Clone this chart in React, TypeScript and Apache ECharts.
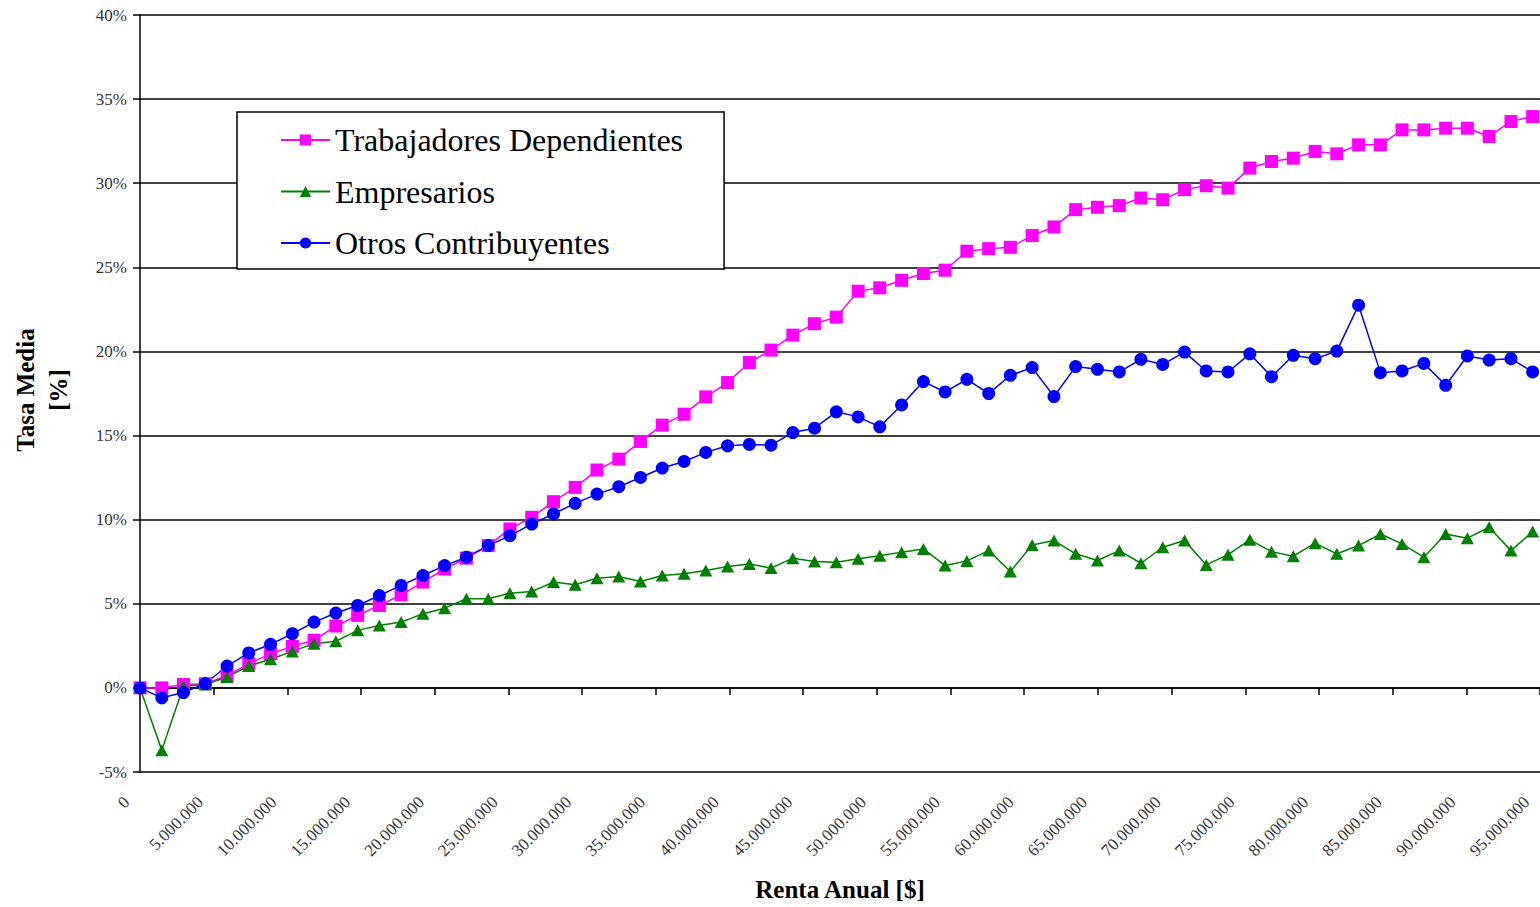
import React, { useEffect, useRef } from "react";
import * as echarts from "echarts";

// Renta anual (millones de $)
const rentaAnual = [0, 1.48, 2.95, 4.43, 5.91, 7.38, 8.86, 10.34, 11.81, 13.29, 14.77, 16.24, 17.72, 19.2, 20.67, 22.15, 23.63, 25.1, 26.58, 28.06, 29.53, 31.01, 32.49, 33.96, 35.44, 36.92, 38.39, 39.87, 41.35, 42.82, 44.3, 45.77, 47.25, 48.73, 50.2, 51.68, 53.16, 54.63, 56.11, 57.59, 59.06, 60.54, 62.02, 63.49, 64.97, 66.45, 67.92, 69.4, 70.88, 72.35, 73.83, 75.31, 76.78, 78.26, 79.74, 81.21, 82.69, 84.17, 85.64, 87.12, 88.6, 90.07, 91.55, 93.03, 94.5];

const trabajadores = [0, 0.0, 0.2, 0.25, 0.73, 1.44, 2.03, 2.47, 2.83, 3.68, 4.31, 4.9, 5.53, 6.29, 7.07, 7.71, 8.46, 9.45, 10.14, 11.07, 11.92, 12.95, 13.6, 14.65, 15.62, 16.27, 17.3, 18.15, 19.34, 20.08, 20.97, 21.65, 22.04, 23.58, 23.78, 24.23, 24.63, 24.83, 25.96, 26.11, 26.19, 26.89, 27.4, 28.43, 28.57, 28.67, 29.12, 29.02, 29.62, 29.85, 29.71, 30.9, 31.29, 31.49, 31.89, 31.75, 32.28, 32.28, 33.17, 33.17, 33.27, 33.27, 32.78, 33.67, 33.96];

const empresarios = [0, -3.7, 0.1, 0.2, 0.65, 1.3, 1.7, 2.17, 2.63, 2.77, 3.42, 3.71, 3.91, 4.41, 4.74, 5.3, 5.3, 5.63, 5.73, 6.29, 6.13, 6.52, 6.62, 6.32, 6.68, 6.78, 6.98, 7.21, 7.37, 7.12, 7.71, 7.51, 7.47, 7.67, 7.86, 8.07, 8.26, 7.27, 7.55, 8.16, 6.92, 8.5, 8.76, 7.97, 7.57, 8.16, 7.41, 8.36, 8.76, 7.31, 7.92, 8.8, 8.1, 7.83, 8.6, 7.97, 8.46, 9.15, 8.56, 7.77, 9.15, 8.9, 9.55, 8.16, 9.29];

const otros = [0, -0.59, -0.28, 0.26, 1.3, 2.08, 2.59, 3.22, 3.91, 4.45, 4.9, 5.49, 6.09, 6.68, 7.27, 7.77, 8.46, 9.05, 9.74, 10.34, 10.97, 11.52, 11.96, 12.51, 13.07, 13.46, 14.0, 14.39, 14.47, 14.43, 15.18, 15.44, 16.41, 16.11, 15.52, 16.82, 18.21, 17.59, 18.34, 17.5, 18.58, 19.04, 17.32, 19.1, 18.94, 18.78, 19.53, 19.23, 19.96, 18.84, 18.78, 19.86, 18.5, 19.77, 19.57, 20.02, 22.75, 18.74, 18.84, 19.29, 17.99, 19.73, 19.49, 19.57, 18.78];

const seriesNames = ["Trabajadores Dependientes", "Empresarios", "Otros Contribuyentes"];

const SERIF = "'Liberation Serif', 'DejaVu Serif', serif";

function fmtPesos(v: number): string {
  const n = Math.round(v * 1e6);
  return String(n).replace(/\B(?=(\d{3})+(?!\d))/g, ".");
}

function pairs(ys: number[]) {
  return ys.map((y, i) => [rentaAnual[i], y]);
}

export default function App() {
  const ref = useRef<HTMLDivElement>(null);
  useEffect(() => {
    if (!ref.current) return;
    const chart = echarts.init(ref.current, undefined, { renderer: "svg" });
    const lineW = 1.5;
    chart.setOption({
      animation: false,
      backgroundColor: "#ffffff",
      grid: { left: 140, top: 15, right: -4, bottom: 134, containLabel: false },
      legend: {
        orient: "vertical",
        left: 237,
        top: 112,
        padding: [10, 41, 8, 43],
        itemWidth: 49,
        itemHeight: 14,
        itemGap: 15.5,
        borderColor: "#000",
        borderWidth: 1.5,
        backgroundColor: "#ffffff",
        selectedMode: false,
        data: seriesNames,
        textStyle: { fontFamily: SERIF, fontSize: 32, color: "#000", lineHeight: 36 },
      },
      xAxis: {
        type: "value",
        min: 0,
        max: 95,
        interval: 5,
        name: "Renta Anual [$]",
        nameLocation: "middle",
        nameGap: 105,
        nameTextStyle: { fontFamily: SERIF, fontSize: 25, fontWeight: "bold", color: "#000" },
        axisLine: { show: true, lineStyle: { color: "#000", width: lineW } },
        axisTick: { show: true, inside: false, length: 7, lineStyle: { color: "#000", width: lineW } },
        splitLine: { show: false },
        axisLabel: {
          rotate: 45,
          margin: 14,
          padding: [0, 19, 0, 0],
          fontFamily: SERIF,
          fontSize: 17,
          color: "#333",
          formatter: (v: number) => fmtPesos(v),
        },
      },
      yAxis: {
        type: "value",
        min: -5,
        max: 40,
        interval: 5,
        axisLine: { show: true, lineStyle: { color: "#000", width: lineW } },
        axisTick: { show: true, inside: false, length: 7, lineStyle: { color: "#000", width: lineW } },
        splitLine: { show: true, lineStyle: { color: "#000", width: lineW } },
        axisLabel: {
          margin: 13,
          fontFamily: SERIF,
          fontSize: 17,
          color: "#333",
          formatter: (v: number) => `${v}%`,
        },
      },
      graphic: [
        {
          type: "text",
          x: 42,
          y: 390,
          rotation: Math.PI / 2,
          style: {
            text: "Tasa Media\n[%]",
            fontFamily: SERIF,
            fontSize: 25,
            fontWeight: "bold",
            lineHeight: 33,
            fill: "#000",
            align: "center",
            verticalAlign: "middle",
          },
        },
      ],
      series: [
        {
          name: seriesNames[0],
          type: "line",
          data: pairs(trabajadores),
          symbol: "rect",
          symbolSize: 13,
          color: "#FF00FF",
          lineStyle: { color: "#FF00FF", width: lineW },
          itemStyle: { color: "#FF00FF" },
        },
        {
          name: seriesNames[1],
          type: "line",
          data: pairs(empresarios),
          symbol: "triangle",
          symbolSize: [13, 12],
          color: "#008000",
          lineStyle: { color: "#008000", width: lineW },
          itemStyle: { color: "#008000" },
        },
        {
          name: seriesNames[2],
          type: "line",
          data: pairs(otros),
          symbol: "circle",
          symbolSize: 13,
          color: "#0000FF",
          lineStyle: { color: "#0000FF", width: lineW },
          itemStyle: { color: "#0000FF" },
        },
      ],
    });
    return () => chart.dispose();
  }, []);
  return (
    <div
      ref={ref}
      style={{ position: "fixed", left: 0, top: 0, width: 1540, height: 907, background: "#fff" }}
    />
  );
}
